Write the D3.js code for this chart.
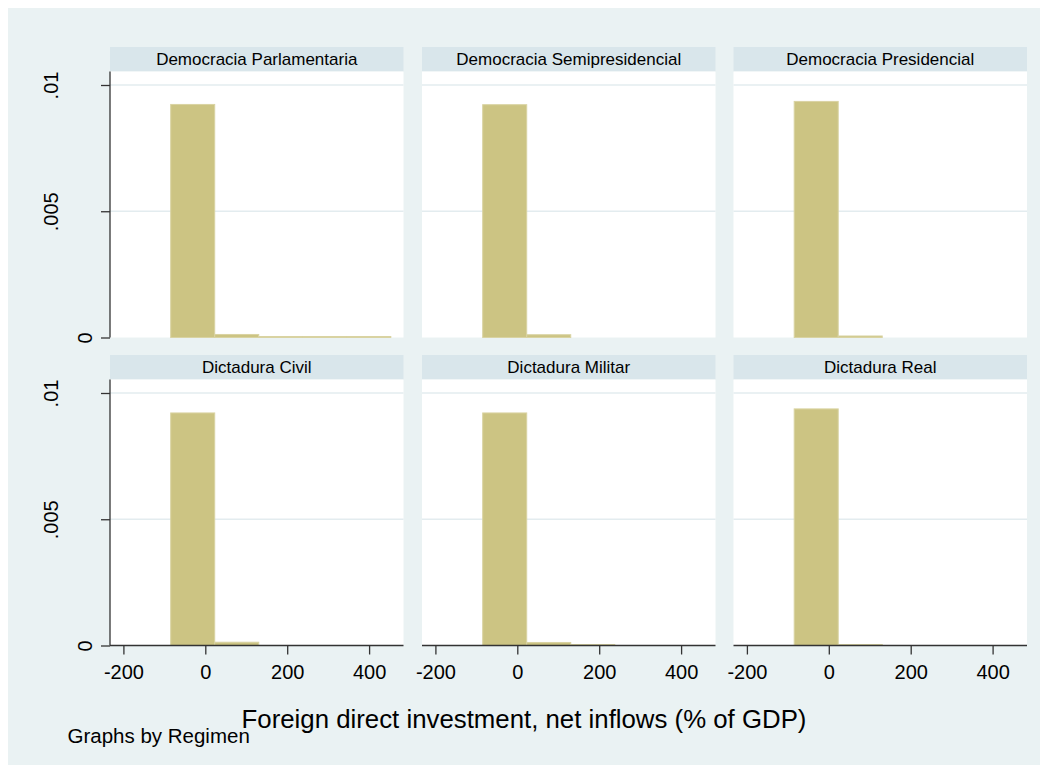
<!DOCTYPE html>
<html>
<head>
<meta charset="utf-8">
<script src="https://cdn.jsdelivr.net/npm/d3@7"></script>
<style>
  body { margin: 0; background: #ffffff; }
  svg { display: block; font-family: "Liberation Sans", Arial, sans-serif; }
</style>
</head>
<body>
<svg id="chart" width="1048" height="773"></svg>
<script>
// ---- data ----
const panels = ["Democracia Parlamentaria", "Democracia Semipresidencial", "Democracia Presidencial",
                "Dictadura Civil", "Dictadura Militar", "Dictadura Real"];
const binEdges = [-84.5, 23, 130.5, 238, 345.5, 453];
const densParlamentaria     = [0.00923, 0.00012, 0.00004, 0.00004, 0.00004];
const densSemipresidencial  = [0.00922, 0.00011, 0, 0, 0];
const densPresidencial      = [0.00935, 0.00006, 0, 0, 0];
const densCivil             = [0.00921, 0.00013, 0, 0, 0];
const densMilitar           = [0.00921, 0.00012, 0.00004, 0, 0];
const densReal              = [0.00937, 0.00004, 0, 0, 0];
const xTicks = [-200, 0, 200, 400];
const yTicks = [0, 0.005, 0.01];
const yTickLabels = ["0", ".005", ".01"];
const xTitle = "Foreign direct investment, net inflows (% of GDP)";
const note = "Graphs by Regimen";

const series = [densParlamentaria, densSemipresidencial, densPresidencial, densCivil, densMilitar, densReal];

// ---- layout ----
const svg = d3.select("#chart");
svg.append("rect").attr("x", 8).attr("y", 8).attr("width", 1032).attr("height", 757).attr("fill", "#EAF2F3");

const colX = [110, 422, 733.5];
const panelW = 293.5;
const stripTop = [47, 355];
const stripH = 24.5;
const plotH = 266;
const pxPerUnit = 0.4095;
const zeroOff = 95.3;  // px from left edge to x=0

const barFill = "#CCC483";
const barStroke = "#D9D3A2";
const yLabelOffset = { "0": -25, ".005": -59, ".01": -59 };

series.forEach((vals, i) => {
  const col = i % 3, row = Math.floor(i / 3);
  const x0 = colX[col];
  const pTop = stripTop[row] + stripH;
  const g = svg.append("g");

  const x = d3.scaleLinear()
    .domain([-zeroOff / pxPerUnit, (panelW - zeroOff) / pxPerUnit])
    .range([x0, x0 + panelW]);
  const y = d3.scaleLinear()
    .domain([0, 0.01 * plotH / 252.5])
    .range([pTop + plotH, pTop]);

  // strip
  g.append("rect").attr("x", x0).attr("y", stripTop[row]).attr("width", panelW).attr("height", stripH)
    .attr("fill", "#D9E6EB");
  g.append("text").attr("x", x0 + panelW / 2).attr("y", stripTop[row] + stripH / 2 + 6)
    .attr("text-anchor", "middle").attr("font-size", 17).attr("fill", "#000").text(panels[i]);

  // plot area
  g.append("rect").attr("x", x0).attr("y", pTop).attr("width", panelW).attr("height", plotH).attr("fill", "#ffffff");

  // gridlines
  g.selectAll("line.grid").data(yTicks.filter(t => t > 0)).enter().append("line")
    .attr("x1", x0).attr("x2", x0 + panelW)
    .attr("y1", d => y(d)).attr("y2", d => y(d))
    .attr("stroke", "#E3ECEF").attr("stroke-width", 1.5);

  // bars
  const bins = vals.map((v, k) => ({ x0: binEdges[k], x1: binEdges[k + 1], v }));
  g.selectAll("rect.bar").data(bins.filter(b => b.v > 0)).enter().append("rect")
    .attr("x", d => x(d.x0)).attr("width", d => x(d.x1) - x(d.x0))
    .attr("y", d => y(d.v)).attr("height", d => y(0) - y(d.v))
    .attr("fill", barFill).attr("stroke", barStroke).attr("stroke-width", 1);

  // y axis (left column)
  if (col === 0) {
    const ya = d3.axisLeft(y).tickValues(yTicks).tickSize(9).tickFormat((d, k) => yTickLabels[k]);
    const ag = g.append("g").attr("transform", `translate(${x0},0)`).call(ya);
    ag.select(".domain").attr("stroke", "#333").attr("stroke-width", 1.3)
      .attr("d", `M0,${pTop}V${pTop + plotH}`);
    ag.selectAll(".tick line").attr("stroke", "#333").attr("stroke-width", 1.3);
    ag.selectAll(".tick text")
      .attr("font-size", 20).attr("font-family", "Liberation Sans, Arial, sans-serif").attr("fill", "#000")
      .attr("text-anchor", "middle").attr("x", null).attr("dy", null)
      .attr("transform", (d, k) => `translate(${yLabelOffset[yTickLabels[k]]},0) rotate(-90)`)
      .attr("dominant-baseline", "central");
  }

  // x axis (bottom row)
  if (row === 1) {
    const xa = d3.axisBottom(x).tickValues(xTicks).tickSize(9).tickFormat(d => String(d));
    const ag = g.append("g").attr("transform", `translate(0,${pTop + plotH})`).call(xa);
    ag.select(".domain").attr("stroke", "#333").attr("stroke-width", 1.3)
      .attr("d", `M${x0},0H${x0 + panelW}`);
    ag.selectAll(".tick line").attr("stroke", "#333").attr("stroke-width", 1.3);
    ag.selectAll(".tick text")
      .attr("font-size", 20).attr("font-family", "Liberation Sans, Arial, sans-serif").attr("fill", "#000")
      .attr("y", 33).attr("dy", null);
  }
});

svg.append("text").attr("x", 524).attr("y", 728).attr("text-anchor", "middle")
  .attr("font-size", 25.8).attr("fill", "#000").text(xTitle);
svg.append("text").attr("x", 67.5).attr("y", 743).attr("font-size", 20.5).attr("fill", "#000").text(note);
</script>
</body>
</html>
